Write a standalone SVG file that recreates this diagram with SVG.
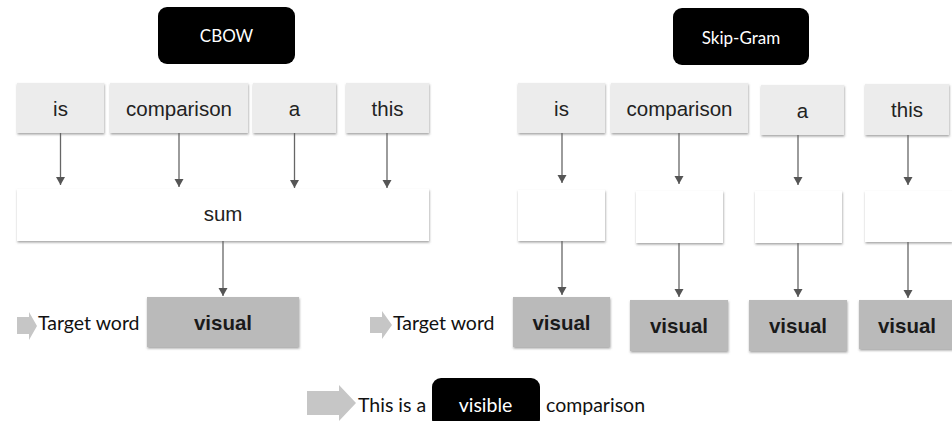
<svg xmlns="http://www.w3.org/2000/svg" width="952" height="421" viewBox="0 0 952 421">
<defs>
<filter id="sh" x="-10%" y="-10%" width="130%" height="140%">
<feDropShadow dx="0.5" dy="1.5" stdDeviation="1" flood-color="#555" flood-opacity="0.55"/>
</filter>
<marker id="ah" viewBox="0 0 10 10" refX="10" refY="5" markerWidth="7" markerHeight="7" markerUnits="userSpaceOnUse" orient="auto">
<path d="M0,0 L10,5 L0,10 z" fill="#555"/>
</marker>
<marker id="ah2" viewBox="0 0 8 10" refX="8" refY="5" markerWidth="8" markerHeight="10" markerUnits="userSpaceOnUse" orient="auto">
<path d="M0,0.5 L8,5 L0,9.5 z" fill="#555"/>
</marker>
</defs>
<style>
.title{fill:#000}
.tt{font-family:Lato,"Open Sans",sans-serif;font-size:17px;fill:#fff;text-anchor:middle}
.word{fill:#ececec;filter:url(#sh)}
.wt{font-family:"Liberation Sans",Arial,sans-serif;font-size:20.5px;fill:#222;text-anchor:middle}
.white{fill:#fff;filter:url(#sh)}
.vis{fill:#bababa;filter:url(#sh)}
.vt{font-family:"Liberation Sans",Arial,sans-serif;font-size:20.5px;font-weight:bold;fill:#1a1a1a;text-anchor:middle}
.lab{font-family:Lato,"Open Sans",sans-serif;font-size:19.5px;fill:#111}
.garrow{fill:#c6c6c6}
.conn{stroke:#666;stroke-width:1.3;fill:none;marker-end:url(#ah2)}
</style>

<g id="cbow-title">
<rect class="title" x="158" y="7" width="137" height="57" rx="9"/>
<text class="tt" x="226.5" y="42">CBOW</text>
</g>
<g id="skip-title">
<rect class="title" x="673" y="8" width="136" height="57" rx="9"/>
<text class="tt" x="741" y="44">Skip-Gram</text>
</g>

<g id="c-is"><rect class="word" x="17" y="83" width="87" height="50"/><text class="wt" x="60.5" y="116">is</text></g>
<g id="c-comparison"><rect class="word" x="110" y="83" width="138" height="50"/><text class="wt" x="179" y="116">comparison</text></g>
<g id="c-a"><rect class="word" x="253" y="83" width="83" height="50"/><text class="wt" x="294.5" y="116">a</text></g>
<g id="c-this"><rect class="word" x="346" y="83" width="83" height="50"/><text class="wt" x="387.5" y="116">this</text></g>
<g id="c-sum"><rect class="white" x="17" y="189" width="412" height="52"/><text class="wt" x="223" y="221">sum</text></g>
<g id="c-visual"><rect class="vis" x="147" y="297" width="152" height="50"/><text class="vt" x="223" y="330">visual</text></g>
<g id="c-target">
<path class="garrow" d="M17,317 L29,317 L29,312 L37,326 L29,340 L29,334 L17,334 z"/>
<text class="lab" x="38" y="330">Target word</text>
</g>

<g id="s-is"><rect class="word" x="518" y="83" width="87" height="50"/><text class="wt" x="561.5" y="116">is</text></g>
<g id="s-comparison"><rect class="word" x="611" y="83" width="137" height="50"/><text class="wt" x="679.5" y="116">comparison</text></g>
<g id="s-a"><rect class="word" x="761" y="85" width="83" height="50"/><text class="wt" x="802.5" y="118">a</text></g>
<g id="s-this"><rect class="word" x="865" y="84" width="84" height="51"/><text class="wt" x="907" y="117">this</text></g>
<g id="s-h1"><rect class="white" x="518" y="190" width="87" height="51"/></g>
<g id="s-h2"><rect class="white" x="636" y="191" width="87" height="52"/></g>
<g id="s-h3"><rect class="white" x="755" y="191" width="87" height="52"/></g>
<g id="s-h4"><rect class="white" x="865" y="191" width="87" height="51"/></g>
<g id="s-v1"><rect class="vis" x="513" y="297" width="97" height="50"/><text class="vt" x="561.5" y="330">visual</text></g>
<g id="s-v2"><rect class="vis" x="630" y="300" width="98" height="51"/><text class="vt" x="679" y="333">visual</text></g>
<g id="s-v3"><rect class="vis" x="749" y="300" width="98" height="51"/><text class="vt" x="798" y="333">visual</text></g>
<g id="s-v4"><rect class="vis" x="859" y="300" width="94" height="49"/><text class="vt" x="907" y="333">visual</text></g>
<g id="s-target">
<path class="garrow" d="M370,317 L382,317 L382,311 L392,325 L382,339 L382,333 L370,333 z"/>
<text class="lab" x="393" y="330">Target word</text>
</g>

<g id="legend">
<path class="garrow" d="M307,391 L339,391 L339,385 L356,403 L339,421 L339,415 L307,415 z"/>
<text class="lab" x="358" y="412">This is a</text>
<rect x="432" y="378" width="108" height="50" rx="9" fill="#000"/>
<text class="lab" x="485.5" y="412" fill="#fff" style="fill:#fff" text-anchor="middle">visible</text>
<text class="lab" x="546" y="412">comparison</text>
</g>

<g id="connectors">
<line class="conn" x1="60.5" y1="133" x2="60.5" y2="185"/>
<line class="conn" x1="179" y1="133" x2="179" y2="187"/>
<line class="conn" x1="294.5" y1="133" x2="294.5" y2="188"/>
<line class="conn" x1="387" y1="133" x2="387" y2="188"/>
<line class="conn" x1="223" y1="241" x2="223" y2="296"/>
<line class="conn" x1="562" y1="133" x2="562" y2="183"/>
<line class="conn" x1="679" y1="133" x2="679" y2="184"/>
<line class="conn" x1="798" y1="135" x2="798" y2="185"/>
<line class="conn" x1="908" y1="135" x2="908" y2="185"/>
<line class="conn" x1="562" y1="241" x2="562" y2="295"/>
<line class="conn" x1="679" y1="243" x2="679" y2="297"/>
<line class="conn" x1="798" y1="243" x2="798" y2="297"/>
<line class="conn" x1="908" y1="242" x2="908" y2="298"/>
</g>
</svg>
